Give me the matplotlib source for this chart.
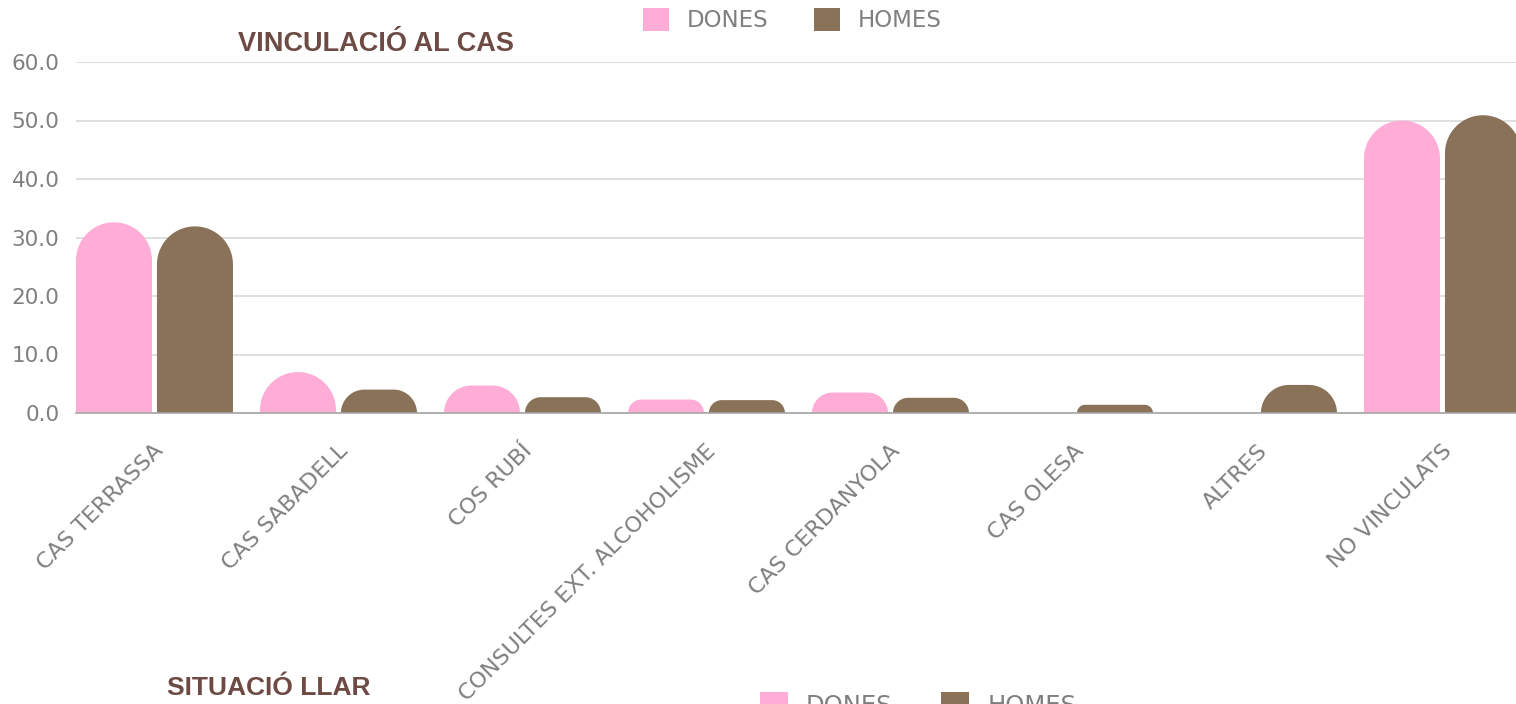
import numpy as np
import matplotlib.pyplot as plt
from matplotlib.patches import Polygon, Patch
from matplotlib.transforms import ScaledTranslation

# dades
categories = ['CAS TERRASSA', 'CAS SABADELL', 'COS RUBÍ', 'CONSULTES EXT. ALCOHOLISME',
              'CAS CERDANYOLA', 'CAS OLESA', 'ALTRES', 'NO VINCULATS']
dones = [32.6, 7.0, 4.7, 2.3, 3.5, 0.0, 0.0, 50.0]
homes = [31.9, 4.0, 2.7, 2.2, 2.6, 1.4, 4.8, 50.9]
yticks = [0, 10, 20, 30, 40, 50, 60]

COL_DONES = '#FFADD7'
COL_HOMES = '#8A7259'
COL_TEXT = '#7F7F7F'
COL_TITLE = '#6D4A43'

W, H = 1516, 704
fig = plt.figure(figsize=(W / 100, H / 100), dpi=100)

# eix: cada categoria ocupa 184 px
bar_w = 76 / 184
off = 0.22
x0 = -off - bar_w / 2
x1 = 7.5
ax = fig.add_axes([76 / W, 291 / H, (x1 - x0) * 184 / W, 351 / H])
ax.set_xlim(x0, x1)
ax.set_ylim(0, 60)


def barra_arrodonida(ax, xc, w, h, color):
    # barra amb la part de dalt arrodonida (radi en pixels)
    if h <= 0:
        return
    p0 = ax.transData.transform((0, 0))
    p1 = ax.transData.transform((1, 1))
    sx, sy = p1[0] - p0[0], p1[1] - p0[1]
    r = min(w * sx / 2, h * sy)
    rx, ry = r / sx, r / sy
    left, right = xc - w / 2, xc + w / 2
    t = np.linspace(0, np.pi / 2, 30)
    pts = [(left, 0), (right, 0)]
    for a in t:
        pts.append((right - rx + rx * np.cos(a), h - ry + ry * np.sin(a)))
    for a in t:
        pts.append((left + rx - rx * np.sin(a), h - ry + ry * np.cos(a)))
    ax.add_patch(Polygon(pts, closed=True, facecolor=color, edgecolor='none', zorder=3))


x = np.arange(len(categories))
for i in range(len(categories)):
    barra_arrodonida(ax, x[i] - off, bar_w, dones[i], COL_DONES)
    barra_arrodonida(ax, x[i] + off, bar_w, homes[i], COL_HOMES)

# graella i eixos
ax.set_yticks(yticks)
ax.set_yticklabels([f'{v:.1f}' for v in yticks])
ax.yaxis.grid(True, color='#D9D9D9', lw=1.2)
ax.set_axisbelow(True)
for s in ['top', 'right', 'left']:
    ax.spines[s].set_visible(False)
ax.spines['bottom'].set_color('#A6A6A6')
ax.spines['bottom'].set_linewidth(1.2)
ax.spines['bottom'].set_zorder(4)
ax.tick_params(axis='y', length=0, pad=12, labelsize=15.5, labelcolor=COL_TEXT)
ax.tick_params(axis='x', length=0, pad=25, labelsize=16, labelcolor=COL_TEXT)
ax.set_xticks(x)
ax.set_xticklabels(categories, rotation=45, ha='right', va='center', rotation_mode='anchor')
for lbl in ax.get_xticklabels():
    lbl.set_transform(lbl.get_transform() + ScaledTranslation(6 / 100, 0, fig.dpi_scale_trans))

# títol i llegenda
fig.text(376 / W, 1 - 44 / H, 'VINCULACIÓ AL CAS', family='Liberation Sans', weight='bold',
         fontsize=19.5, color=COL_TITLE, ha='center', va='center')
handles = [Patch(facecolor=COL_DONES, label='DONES'), Patch(facecolor=COL_HOMES, label='HOMES')]
leg = fig.legend(handles=handles, loc='center', bbox_to_anchor=(792 / W, 1 - 20 / H), ncol=2,
                 frameon=False, fontsize=16.5, handlelength=1.15, handleheight=1.15,
                 handletextpad=0.75, columnspacing=2.0, borderpad=0)
for t in leg.get_texts():
    t.set_color(COL_TEXT)

# part del següent gràfic (tallada)
fig.text(269 / W, 1 - 688 / H, 'SITUACIÓ LLAR', family='Liberation Sans', weight='bold',
         fontsize=19, color=COL_TITLE, ha='center', va='center')
leg2 = fig.legend(handles=handles, loc='center', bbox_to_anchor=(918 / W, 1 - 705 / H), ncol=2,
                  frameon=False, fontsize=17.5, handlelength=1.15, handleheight=1.15,
                  handletextpad=0.75, columnspacing=2.0, borderpad=0)
for t in leg2.get_texts():
    t.set_color(COL_TEXT)

fig.savefig('out.png', dpi=100)
